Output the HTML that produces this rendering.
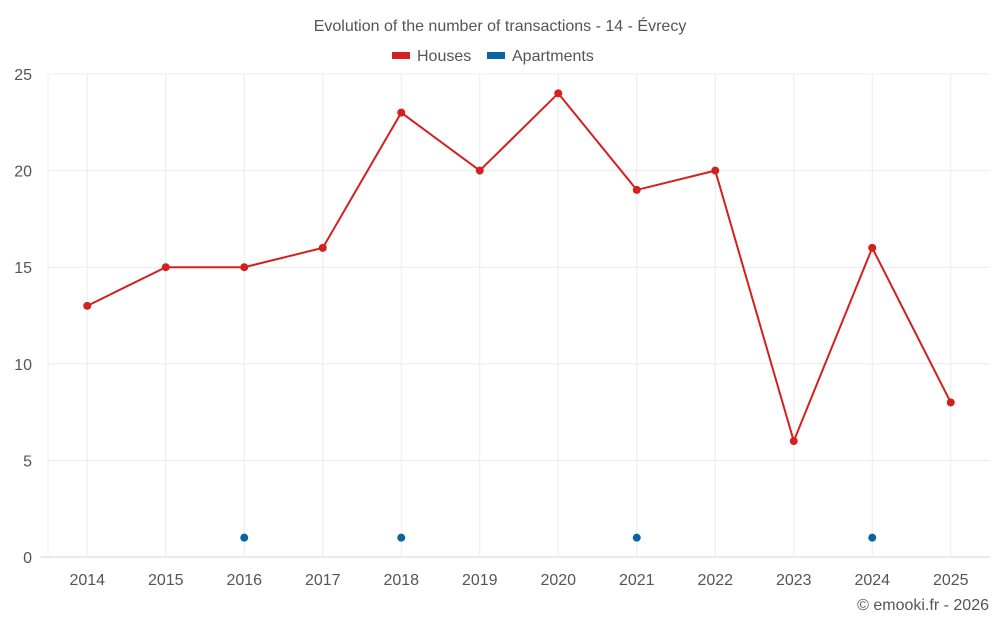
<!DOCTYPE html>
<html><head><meta charset="utf-8"><style>
body{margin:0;background:#fff;font-family:"Liberation Sans",sans-serif;}
svg text{font-family:"Liberation Sans",sans-serif;}
</style></head><body>
<svg id="chart" width="1000" height="625" viewBox="0 0 1000 625" xmlns="http://www.w3.org/2000/svg">
<text x="500" y="31" text-anchor="middle" font-size="16" fill="#555">Evolution of the number of transactions - 14 - Évrecy</text>
<g>
<g><rect x="392" y="52" width="18" height="7" fill="#d42020"/><text x="417" y="61" font-size="16" fill="#555">Houses</text></g>
<g><rect x="487" y="52" width="18" height="7" fill="#0a64a0"/><text x="512" y="61" font-size="16" fill="#555">Apartments</text></g>
</g>
<g id="grid"></g><g id="axes"></g><g id="series"></g>
<text x="989" y="610" text-anchor="end" font-size="16" fill="#555">© emooki.fr - 2026</text>
</svg>
<script>
const categories=["2014","2015","2016","2017","2018","2019","2020","2021","2022","2023","2024","2025"];
const houses=[13,15,15,16,23,20,24,19,20,6,16,8];
const apartments=[null,null,1,null,1,null,null,1,null,null,1,null];
const yTicks=[0,5,10,15,20,25];
const L=48,R=990,T=74,B=557,YMAX=25;
const bw=(R-L)/categories.length;
const x=i=>L+bw*(i+0.5);
const y=v=>B-(v/YMAX)*(B-T);
const NS="http://www.w3.org/2000/svg";
function mk(tag,attrs,parent){const e=document.createElementNS(NS,tag);for(const k in attrs)e.setAttribute(k,attrs[k]);document.getElementById(parent).appendChild(e);return e;}
yTicks.forEach(t=>{
 const g=mk('line',{x1:t===0?40:L,x2:R,y1:y(t),y2:y(t),stroke:t===0?'#d4d4d4':'#ececec','stroke-width':1},'grid');
 
 
 const tx=mk('text',{x:32,y:y(t)+6,'text-anchor':'end','font-size':16,fill:'#555'},'axes');
 tx.textContent=t;
 
 
});
const lb=mk('line',{x1:L,x2:L,y1:T,y2:B,stroke:'#ececec'},'grid');


categories.forEach((c,i)=>{
 const g=mk('line',{x1:x(i),x2:x(i),y1:T,y2:B,stroke:'#ececec'},'grid');
 
 
 const tx=mk('text',{x:x(i),y:585,'text-anchor':'middle','font-size':16,fill:'#555'},'axes');
 tx.textContent=c;
 
 
});
const p=mk('path',{d:houses.map((v,i)=>(i?'L':'M')+x(i)+' '+y(v)).join(' '),fill:'none',stroke:'#d42020','stroke-width':2},'series');


houses.forEach((v,i)=>{
 const c=mk('circle',{cx:x(i),cy:y(v),r:4,fill:'#d42020'},'series');
 
 
});
apartments.forEach((v,i)=>{
 if(v===null)return;
 const c=mk('circle',{cx:x(i),cy:y(v),r:4,fill:'#0a64a0'},'series');
 
 
});
</script>
</body></html>
